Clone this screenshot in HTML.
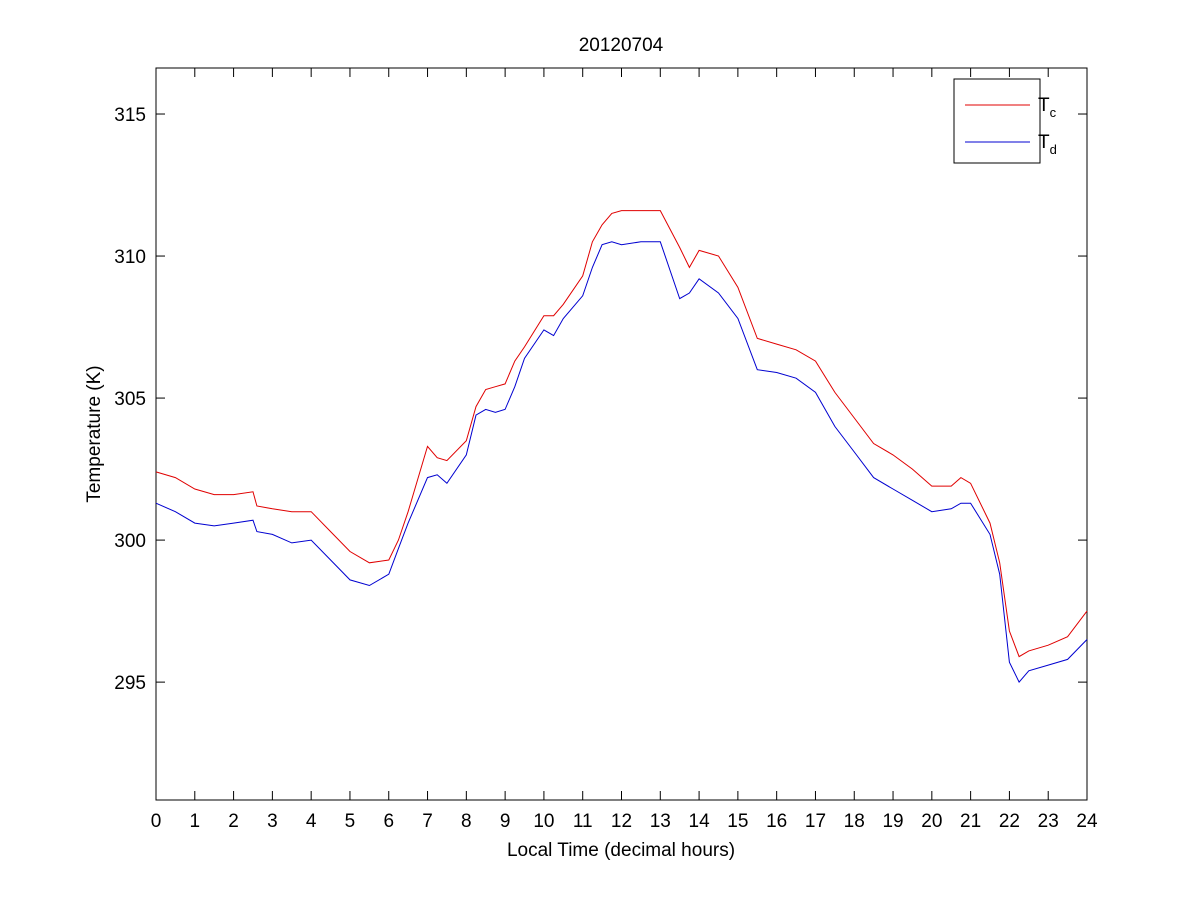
<!DOCTYPE html>
<html><head><meta charset="utf-8"><style>
body{margin:0;background:#fff;}
svg{display:block;font-family:"Liberation Sans",Arial,sans-serif;}
</style></head><body>
<svg id="chart" width="1201" height="900" viewBox="0 0 1201 900" xmlns="http://www.w3.org/2000/svg">
<rect x="0" y="0" width="1201" height="900" fill="#fff"/>
<text x="621" y="51" font-size="19" text-anchor="middle">20120704</text>
<rect x="156" y="68" width="931" height="732" fill="#fff" stroke="#000" stroke-width="1"/>
<g id="ticks"></g>
<g id="series"></g>
<text x="621" y="856" font-size="19" text-anchor="middle">Local Time (decimal hours)</text>
<text transform="translate(100,434) rotate(-90)" font-size="19" text-anchor="middle">Temperature (K)</text>
<g>
<rect x="954" y="79" width="86" height="84" fill="#fff" stroke="#000"/>
<line x1="965" y1="105" x2="1030" y2="105" stroke="#e00000"/>
<text x="1038" y="111" font-size="19">T<tspan font-size="13" dy="6">c</tspan></text>
<line x1="965" y1="142" x2="1030" y2="142" stroke="#0000d0"/>
<text x="1038" y="148" font-size="19">T<tspan font-size="13" dy="6">d</tspan></text>
</g>
</svg>
<script>
const hours=[0,0.5,1,1.5,2,2.5,2.6,3,3.5,4,4.5,5,5.5,6,6.25,6.5,7,7.25,7.5,8,8.25,8.5,8.75,9,9.25,9.5,10,10.25,10.5,11,11.25,11.5,11.75,12,12.5,13,13.5,13.75,14,14.5,15,15.5,16,16.5,17,17.5,18,18.5,19,19.5,20,20.5,20.75,21,21.5,21.75,22,22.25,22.5,23,23.5,24];
const tc=[302.4,302.2,301.8,301.6,301.6,301.7,301.2,301.1,301.0,301.0,300.3,299.6,299.2,299.3,300.0,301.0,303.3,302.9,302.8,303.5,304.7,305.3,305.4,305.5,306.3,306.8,307.9,307.9,308.3,309.3,310.5,311.1,311.5,311.6,311.6,311.6,310.3,309.6,310.2,310.0,308.9,307.1,306.9,306.7,306.3,305.2,304.3,303.4,303.0,302.5,301.9,301.9,302.2,302.0,300.6,299.2,296.8,295.9,296.1,296.3,296.6,297.5];
const td=[301.3,301.0,300.6,300.5,300.6,300.7,300.3,300.2,299.9,300.0,299.3,298.6,298.4,298.8,299.7,300.6,302.2,302.3,302.0,303.0,304.4,304.6,304.5,304.6,305.4,306.4,307.4,307.2,307.8,308.6,309.6,310.4,310.5,310.4,310.5,310.5,308.5,308.7,309.2,308.7,307.8,306.0,305.9,305.7,305.2,304.0,303.1,302.2,301.8,301.4,301.0,301.1,301.3,301.3,300.2,298.8,295.7,295.0,295.4,295.6,295.8,296.5];
const xTicks=[0,1,2,3,4,5,6,7,8,9,10,11,12,13,14,15,16,17,18,19,20,21,22,23,24];
const yTicks=[295,300,305,310,315];
const X0=156,X1=1087,Y0=68,Y1=800;
const xMin=0,xMax=24,yMin=290.85,yMax=316.62;
function sx(v){return X0+(v-xMin)/(xMax-xMin)*(X1-X0);}
function sy(v){return Y1-(v-yMin)/(yMax-yMin)*(Y1-Y0);}
const NS="http://www.w3.org/2000/svg";
const tg=document.getElementById('ticks');
xTicks.forEach(t=>{
  const x=sx(t);
  [[Y1,Y1-9],[Y0,Y0+9]].forEach(p=>{
    const l=document.createElementNS(NS,'line');
    
    
    l.setAttribute('x1',x);l.setAttribute('x2',x);l.setAttribute('y1',p[0]);l.setAttribute('y2',p[1]);l.setAttribute('stroke','#000');
    tg.appendChild(l);
  });
  const tx=document.createElementNS(NS,'text');
  
  
  tx.setAttribute('x',x);tx.setAttribute('y',827);tx.setAttribute('font-size','19');tx.setAttribute('text-anchor','middle');
  tx.textContent=t;tg.appendChild(tx);
});
yTicks.forEach(t=>{
  const y=sy(t);
  [[X0,X0+9],[X1,X1-9]].forEach(p=>{
    const l=document.createElementNS(NS,'line');
    
    
    l.setAttribute('x1',p[0]);l.setAttribute('x2',p[1]);l.setAttribute('y1',y);l.setAttribute('y2',y);l.setAttribute('stroke','#000');
    tg.appendChild(l);
  });
  const tx=document.createElementNS(NS,'text');
  
  
  tx.setAttribute('x',146);tx.setAttribute('y',y+7);tx.setAttribute('font-size','19');tx.setAttribute('text-anchor','end');
  tx.textContent=t;tg.appendChild(tx);
});
const sg=document.getElementById('series');
function line(vals,color,name){
  const p=document.createElementNS(NS,'polyline');
  
  
  p.setAttribute('points',vals.map((v,i)=>sx(hours[i]).toFixed(1)+','+sy(v).toFixed(1)).join(' '));
  p.setAttribute('fill','none');p.setAttribute('stroke',color);p.setAttribute('stroke-width','1');
  sg.appendChild(p);
}
line(tc,'#e00000','tc-line');
line(td,'#0000d0','td-line');
</script>
</body></html>
